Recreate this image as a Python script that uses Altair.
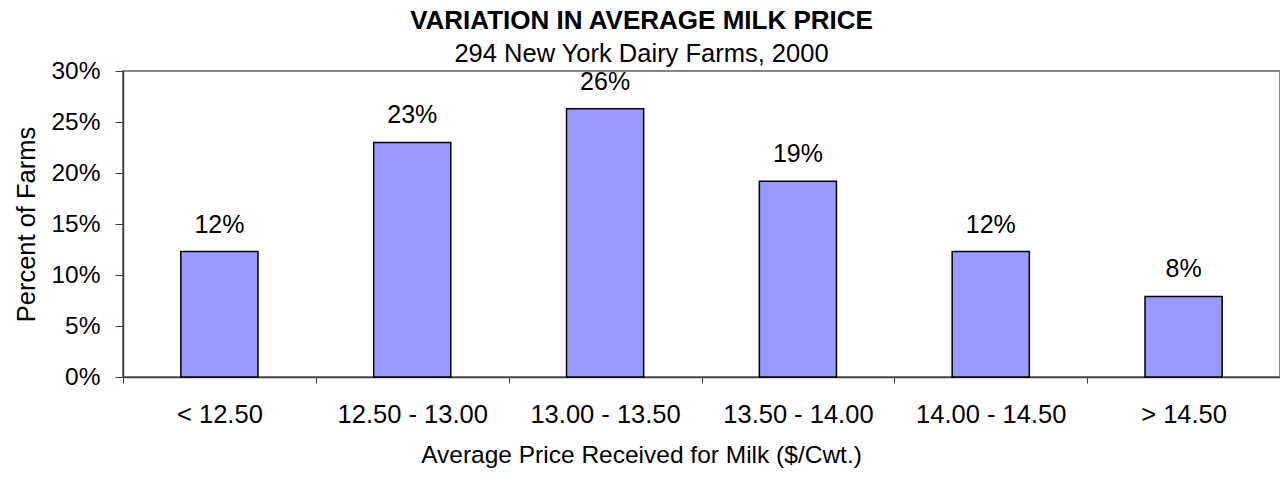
import altair as alt
import pandas as pd

categories = ["< 12.50", "12.50 - 13.00", "13.00 - 13.50", "13.50 - 14.00", "14.00 - 14.50", "> 14.50"]
percent = [12.3, 23.0, 26.3, 19.2, 12.3, 7.9]
labels = ["12%", "23%", "26%", "19%", "12%", "8%"]
y_ticks = [0, 5, 10, 15, 20, 25, 30]

df = pd.DataFrame({"cat": categories, "pct": percent, "label": labels})

FONT = "Liberation Sans"
AXC = "#404040"

x_enc = alt.X(
    "cat:N", sort=categories,
    scale=alt.Scale(paddingInner=0, paddingOuter=0),
    axis=alt.Axis(
        title="Average Price Received for Milk ($/Cwt.)",
        labelAngle=0, tickBand="extent", tickSize=6, tickColor=AXC,
        domainColor=AXC, domainWidth=1.5, labelPadding=19,
        labelFontSize=25.5, titleFontSize=24.5, titlePadding=16, titleX=518,
        labelFont=FONT, titleFont=FONT, titleFontWeight="normal",
        labelColor="black", titleColor="black",
    ),
)
y_enc = alt.Y(
    "pct:Q",
    scale=alt.Scale(domain=[0, 30], nice=False, zero=True),
    axis=alt.Axis(
        title="Percent of Farms", values=y_ticks, labelExpr="datum.value + '%'",
        tickSize=8, tickColor=AXC, domainColor=AXC, domainWidth=1.5,
        labelPadding=15, labelFontSize=24.5, titleFontSize=25.5, titlePadding=11,
        labelFont=FONT, titleFont=FONT, titleFontWeight="normal",
        labelColor="black", titleColor="black",
    ),
)

bars = alt.Chart(df).mark_bar(
    color="#9999FF", stroke="black", strokeWidth=1.5,
    width=alt.RelativeBandSize(0.4),
).encode(x=x_enc, y=y_enc)

text = alt.Chart(df).mark_text(
    baseline="bottom", dy=-14, fontSize=25, font=FONT, color="black",
).encode(x=alt.X("cat:N", sort=categories), y=alt.Y("pct:Q"), text="label:N")

chart = (bars + text).properties(
    width=1157, height=306,
    autosize=alt.AutoSizeParams(type="none"),
    padding={"left": 115, "top": 63, "right": 0, "bottom": 94},
    title=alt.Title(
        text="VARIATION IN AVERAGE MILK PRICE",
        subtitle="294 New York Dairy Farms, 2000",
        font=FONT, fontSize=26, fontWeight="bold", color="black",
        subtitleFont=FONT, subtitleFontSize=25.5, subtitleColor="black",
        anchor="middle", dx=-60, offset=-9, subtitlePadding=8,
    ),
).configure_view(stroke="#888888", strokeWidth=2).configure_axis(grid=False)

chart.save("out.html", embed_options={"renderer": "svg", "actions": False})
